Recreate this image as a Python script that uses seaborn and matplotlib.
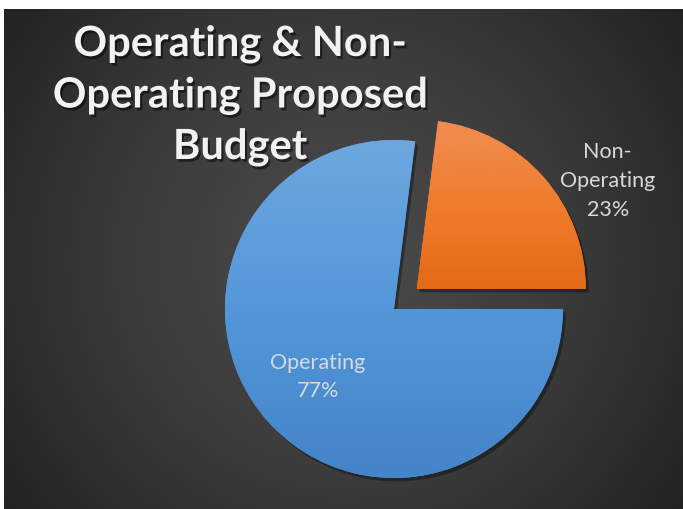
import numpy as np
import matplotlib
matplotlib.use("Agg")
import matplotlib.pyplot as plt
import matplotlib.patheffects as pe
import seaborn as sns

# Budget split
categories = ["Non-Operating", "Operating"]
display_names = ["Non-\nOperating", "Operating"]
shares = [23, 77]
title = "Operating & Non-\nOperating Proposed\nBudget"

sns.set_theme(style="dark")
plt.rcParams["font.family"] = ["Lato", "DejaVu Sans"]

W, H = 683, 510
fig = plt.figure(figsize=(W / 100, H / 100), dpi=100)
fig.patch.set_facecolor("white")

# dark panel with a soft radial gradient
px0, px1, py0, py1 = 4, 683, 10, 510
rect = [px0 / W, 1 - py1 / H, (px1 - px0) / W, (py1 - py0) / H]
bg_ax = fig.add_axes(rect)
gx, gy = np.meshgrid(np.linspace(0, 1, 400), np.linspace(0, 1, 300))
asp = (px1 - px0) / (py1 - py0)
r = np.sqrt(((gx - 0.5) * asp) ** 2 + (gy - 0.5) ** 2)
r = r / r.max()
bg_cmap = sns.blend_palette(["#4c4c4c", "#3c3c3c", "#232323"], n_colors=256, as_cmap=True)
bg_ax.imshow(r, cmap=bg_cmap, aspect="auto", extent=(0, 1, 0, 1), vmin=0, vmax=1)
bg_ax.set_axis_off()

# pie axes sharing the panel, one data unit = pie radius in pixels
R = 169.0
cx_px, cy_px = 394, 310
ax = fig.add_axes(rect)
ax.patch.set_alpha(0)

explode = [0.18, 0.0]
wedges, _ = ax.pie(shares, explode=explode, startangle=0, counterclock=True,
                   radius=1.0, wedgeprops=dict(linewidth=0))
ax.set_xlim((px0 - cx_px) / R, (px1 - cx_px) / R)
ax.set_ylim(-(py1 - cy_px) / R, (cy_px - py0) / R)
ax.set_aspect("auto")
ax.set_axis_off()

# vertical gradients, light at the top and deeper at the bottom
gradients = {
    "Operating": ["#6da7de", "#5497d9", "#4385c8"],
    "Non-Operating": ["#f08d52", "#f07c2c", "#e36a16"],
}
for w, cat in zip(wedges, categories):
    w.set_facecolor(gradients[cat][1])
    w.set_path_effects([pe.SimplePatchShadow(offset=(2, -2.5), shadow_rgbFace="black", alpha=0.35),
                        pe.Normal()])
    ext = w.get_path().get_extents()
    cmap = sns.blend_palette(gradients[cat], n_colors=256, as_cmap=True)
    grad = np.linspace(0, 1, 256).reshape(-1, 1)
    im = ax.imshow(grad, cmap=cmap, aspect="auto", origin="upper",
                   extent=(ext.x0, ext.x1, ext.y0, ext.y1), zorder=w.get_zorder() + 0.5)
    im.set_clip_path(w)

# data labels
label_color = "#d9d9d9"
for w, name, val in zip(wedges, display_names, shares):
    mid = np.deg2rad((w.theta1 + w.theta2) / 2)
    cx, cy = w.center
    if name == "Operating":
        d, ang = 0.60, mid
    else:
        d, ang = 1.30, mid - np.deg2rad(11.7)
    ax.text(cx + d * np.cos(ang), cy + d * np.sin(ang), f"{name}\n{val}%",
            ha="center", va="center", color=label_color, fontsize=15.5,
            linespacing=1.55, zorder=10)

fig.text(240 / W, 1 - 26 / H, title, ha="center", va="top", color="#f2f2f2",
         fontsize=30, fontweight="bold", linespacing=1.42,
         path_effects=[pe.SimplePatchShadow(offset=(1.5, -2), shadow_rgbFace="black", alpha=0.5),
                       pe.Normal()])

fig.savefig("out.png", dpi=100, facecolor=fig.get_facecolor())
